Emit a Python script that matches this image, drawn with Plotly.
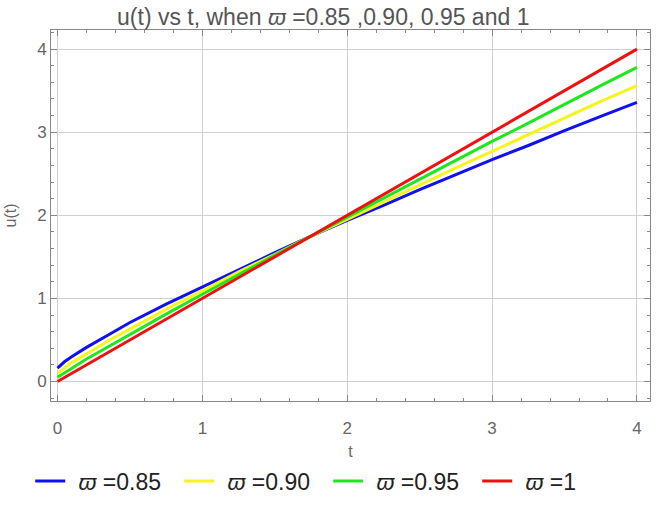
import plotly.graph_objects as go

t_vals = [0, 0.05, 0.1, 0.2, 0.35, 0.5, 0.75, 1, 1.25, 1.5, 1.75, 2, 2.25, 2.5, 2.75, 3, 3.25, 3.5, 3.75, 4]
u_085 = [0.16, 0.24, 0.30, 0.41, 0.56, 0.71, 0.93, 1.14, 1.35, 1.55, 1.75, 1.94, 2.12, 2.31, 2.49, 2.67, 2.84, 3.02, 3.19, 3.36]
u_090 = [0.10, 0.17, 0.23, 0.33, 0.49, 0.63, 0.87, 1.09, 1.32, 1.53, 1.75, 1.95, 2.16, 2.37, 2.57, 2.77, 2.97, 3.17, 3.37, 3.56]
u_095 = [0.05, 0.11, 0.16, 0.27, 0.42, 0.57, 0.81, 1.05, 1.29, 1.52, 1.75, 1.98, 2.21, 2.44, 2.66, 2.89, 3.11, 3.34, 3.56, 3.78]
u_100 = [0.00, 0.05, 0.10, 0.20, 0.35, 0.50, 0.75, 1.00, 1.25, 1.50, 1.75, 2.00, 2.25, 2.50, 2.75, 3.00, 3.25, 3.50, 3.75, 4.00]

series = [
    ("\u00a0\u200a<i>ϖ</i> =0.85", u_085, "#1010f0"),
    ("\u00a0\u200a<i>ϖ</i> =0.90", u_090, "#f7f41c"),
    ("\u00a0\u200a<i>ϖ</i> =0.95", u_095, "#1de81d"),
    ("\u00a0\u200a<i>ϖ</i> =1", u_100, "#ee1111"),
]

x_ticks = [0, 1, 2, 3, 4]
y_ticks = [0, 1, 2, 3, 4]

fig = go.Figure()
for name, ys, col in series:
    fig.add_trace(go.Scatter(x=t_vals, y=ys, mode="lines", name=name,
                             line=dict(color=col, width=3)))

axis_common = dict(
    showline=True, linecolor="#888888", linewidth=1, mirror="ticks",
    ticks="inside", ticklen=6, tickcolor="#888888", tickwidth=1,
    showgrid=True, gridcolor="#d0d0d0", gridwidth=1, zeroline=False,
    automargin=False,
    tickfont=dict(family="Liberation Sans", size=17, color="#666666"),
    minor=dict(ticks="inside", ticklen=3, tickcolor="#888888", nticks=5, showgrid=False),
)

fig.update_layout(
    width=657, height=509,
    margin=dict(l=51, r=7, t=30, b=108),
    paper_bgcolor="white", plot_bgcolor="white",
    title=dict(text="u(t) vs t, when <i>ϖ</i> =0.85 ,0.90, 0.95 and 1",
               xref="container", x=0.492, xanchor="center", y=0.982, yanchor="top",
               font=dict(family="Liberation Sans Narrow, Liberation Sans", size=23, color="#555555")),
    xaxis=dict(range=[-0.045, 4.09], tickvals=x_ticks, ticklabelstandoff=12,
               title=dict(text="t", font=dict(family="Liberation Sans", size=16, color="#666666"), standoff=10),
               **axis_common),
    yaxis=dict(range=[-0.235, 4.23], tickvals=y_ticks,
               title=dict(text="u(t)", font=dict(family="Liberation Sans", size=16, color="#666666"), standoff=16),
               **axis_common),
    legend=dict(orientation="h", xref="container", x=0.046, xanchor="left",
                yref="container", y=0.097, yanchor="top",
                entrywidth=104, entrywidthmode="pixels",
                font=dict(family="Liberation Sans", size=23, color="#222222"),
                bgcolor="rgba(0,0,0,0)"),
    showlegend=True,
)

fig.write_html("out.html")
